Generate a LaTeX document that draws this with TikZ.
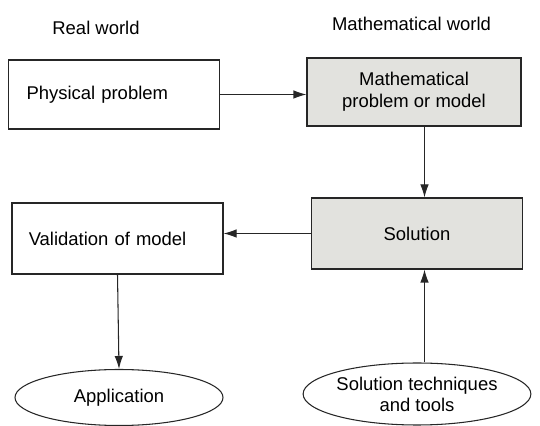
\documentclass[tikz,border=0pt]{standalone}
\usepackage{fontspec}
\setmainfont{Liberation Sans}
\usetikzlibrary{arrows.meta,shapes.geometric}

\tikzset{
  box/.style={draw=black!85, semithick, minimum width=4.22cm, minimum height=1.38cm, align=center, font=\fontsize{10.5}{12.5}\selectfont},
  shadedbox/.style={box, fill=BookGray},
  oval/.style={draw=black!85, semithick, ellipse, inner sep=0pt, align=center, font=\fontsize{10.5}{12}\selectfont},
  flow/.style={-{Latex[length=2.6mm,width=1.7mm]}, semithick, black!85}
}

\begin{document}
\begin{tikzpicture}
\definecolor{BookGray}{RGB}{226,226,222}
\useasboundingbox (0,0) rectangle (10.8,8.52);

% ======================= headings =======================
\node[font=\fontsize{10.5}{12}\selectfont] (realhead) at (1.92,7.96) {Real world};
\node[font=\fontsize{10.5}{12}\selectfont] (mathhead) at (8.23,8.04) {Mathematical world};

% ======================= boxes =======================
\node[box, text width=3.5cm, align=left] (phys) at (2.28,6.63) {Physical problem};
\node[shadedbox, minimum width=4.28cm, minimum height=1.36cm] (mathp) at (8.28,6.68) {Mathematical\\problem or model};
\node[shadedbox, minimum height=1.42cm] (sol) at (8.34,3.85) {Solution};
\node[box, minimum height=1.42cm, text width=3.55cm, align=left] (valid) at (2.35,3.75) {Validation of model};

% ======================= ellipses =======================
\node[oval, minimum width=4.16cm, minimum height=1.12cm] (appl) at (2.38,0.57) {Application};
\node[oval, minimum width=4.2cm, minimum height=1.24cm] (tech) at (8.34,0.64) {Solution techniques\\and tools};

% senkrechte Linie rechts
\coordinate (spine) at (8.49,0);

% ======================= arrows =======================
\draw[flow] (phys.east) -- (phys.east -| mathp.west);
\draw[flow] (mathp.south -| spine) -- (sol.north -| spine);
\draw[flow] (sol.west) -- (sol.west -| valid.east);
\draw[flow] (valid.south) -- (appl.north);
\draw[flow] (tech.north -| spine) -- (sol.south -| spine);

\end{tikzpicture}
\end{document}
